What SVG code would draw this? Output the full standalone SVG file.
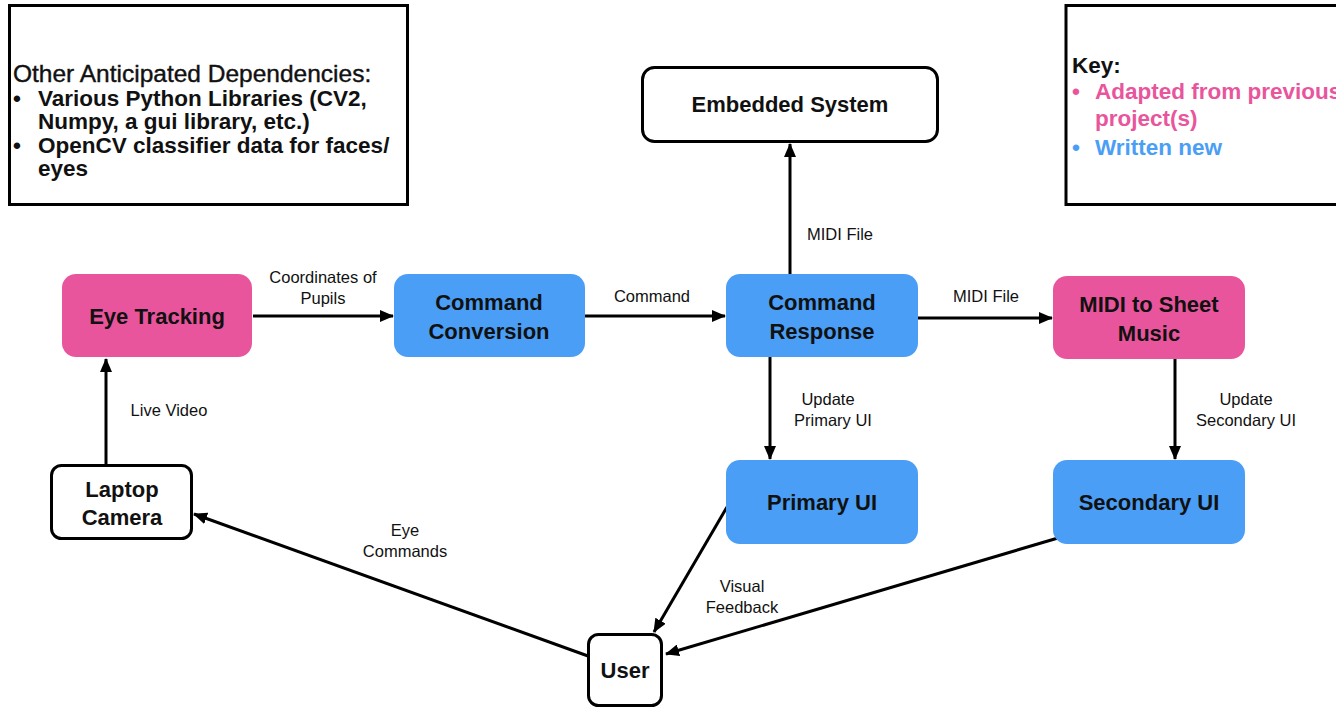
<svg xmlns="http://www.w3.org/2000/svg" width="1336" height="708" viewBox="0 0 1336 708">
<style>
.frame{fill:#fff;stroke:#000;stroke-width:3}
.wnode{fill:#fff;stroke:#000;stroke-width:3}
.blue{fill:#4A9EF5}
.pink{fill:#E9559C}
.nt{font-family:"Liberation Sans",Arial,sans-serif;font-size:22px;font-weight:bold;fill:#111;text-anchor:middle}
.lbl{font-family:"Liberation Sans",Arial,sans-serif;font-size:16.5px;fill:#111;text-anchor:middle}
.hd{font-family:"Liberation Sans",Arial,sans-serif;font-size:24.5px;fill:#111;stroke:#111;stroke-width:0.4}
.bl{font-family:"Liberation Sans",Arial,sans-serif;font-size:22.5px;font-weight:bold;fill:#111}
.kp{fill:#E9559C}
.kb{fill:#4A9EF5}
.edge{stroke:#000;stroke-width:3;fill:none;marker-end:url(#ah)}
</style>
<defs>
<marker id="ah" markerWidth="14" markerHeight="12" refX="13" refY="6" orient="auto" markerUnits="userSpaceOnUse">
<path d="M0,0 L14,6 L0,12 Z" fill="#000"/>
</marker>
</defs>
<rect width="1336" height="708" fill="#fff"/>

<g id="dependencies">
<rect class="frame" x="9.5" y="5.5" width="398" height="199"/>
<text class="hd" x="13" y="82">Other Anticipated Dependencies:</text>
<text class="bl" x="13" y="106">•</text>
<text class="bl" x="38" y="106">Various Python Libraries (CV2,</text>
<text class="bl" x="38" y="129">Numpy, a gui library, etc.)</text>
<text class="bl" x="13" y="153">•</text>
<text class="bl" x="38" y="153">OpenCV classifier data for faces/</text>
<text class="bl" x="38" y="176">eyes</text>
</g>

<g id="key">
<rect class="frame" x="1066" y="5.5" width="285" height="199"/>
<text class="bl" x="1072" y="73">Key:</text>
<text class="bl kp" x="1072" y="99">•</text>
<text class="bl kp" x="1095" y="99">Adapted from previous</text>
<text class="bl kp" x="1095" y="126">project(s)</text>
<text class="bl kb" x="1072" y="155">•</text>
<text class="bl kb" x="1095" y="155">Written new</text>
</g>

<g id="connectors">
<line class="edge" x1="253" y1="316" x2="393" y2="316"/>
<line class="edge" x1="585" y1="316" x2="725" y2="316"/>
<line class="edge" x1="918" y1="318" x2="1052" y2="318"/>
<line class="edge" x1="790" y1="274" x2="790" y2="144"/>
<line class="edge" x1="770" y1="357" x2="770" y2="459"/>
<line class="edge" x1="1175" y1="359" x2="1175" y2="459"/>
<line class="edge" x1="106" y1="465" x2="106" y2="359"/>
<line class="edge" x1="588" y1="656" x2="194" y2="514"/>
<line class="edge" x1="727" y1="507" x2="654" y2="632"/>
<line class="edge" x1="1058" y1="538" x2="666" y2="654"/>
<text class="lbl" x="323" y="283">Coordinates of</text>
<text class="lbl" x="323" y="304">Pupils</text>
<text class="lbl" x="652" y="302">Command</text>
<text class="lbl" x="986" y="302">MIDI File</text>
<text class="lbl" x="840" y="240">MIDI File</text>
<text class="lbl" x="828" y="405">Update</text>
<text class="lbl" x="833" y="426">Primary UI</text>
<text class="lbl" x="1246" y="405">Update</text>
<text class="lbl" x="1246" y="426">Secondary UI</text>
<text class="lbl" x="169" y="416">Live Video</text>
<text class="lbl" x="405" y="536">Eye</text>
<text class="lbl" x="405" y="557">Commands</text>
<text class="lbl" x="742" y="592">Visual</text>
<text class="lbl" x="742" y="613">Feedback</text>
</g>

<g id="eye-tracking">
<rect class="pink" x="62" y="274" width="190" height="83" rx="14"/>
<text class="nt" x="157" y="324">Eye Tracking</text>
</g>
<g id="command-conversion">
<rect class="blue" x="394" y="274" width="191" height="83" rx="14"/>
<text class="nt" x="489" y="310">Command</text>
<text class="nt" x="489" y="339">Conversion</text>
</g>
<g id="command-response">
<rect class="blue" x="726" y="274" width="192" height="83" rx="14"/>
<text class="nt" x="822" y="310">Command</text>
<text class="nt" x="822" y="339">Response</text>
</g>
<g id="midi-to-sheet">
<rect class="pink" x="1053" y="276" width="192" height="83" rx="14"/>
<text class="nt" x="1149" y="312">MIDI to Sheet</text>
<text class="nt" x="1149" y="341">Music</text>
</g>
<g id="primary-ui">
<rect class="blue" x="726" y="460" width="192" height="84" rx="14"/>
<text class="nt" x="822" y="510">Primary UI</text>
</g>
<g id="secondary-ui">
<rect class="blue" x="1053" y="460" width="192" height="84" rx="14"/>
<text class="nt" x="1149" y="510">Secondary UI</text>
</g>
<g id="embedded-system">
<rect class="wnode" x="642.5" y="67.5" width="295" height="74" rx="12"/>
<text class="nt" x="790" y="112">Embedded System</text>
</g>
<g id="laptop-camera">
<rect class="wnode" x="51.5" y="465.5" width="140" height="73" rx="10"/>
<text class="nt" x="122" y="497">Laptop</text>
<text class="nt" x="122" y="525">Camera</text>
</g>
<g id="user">
<rect class="wnode" x="588.5" y="634.5" width="73" height="71" rx="10"/>
<text class="nt" x="625" y="678">User</text>
</g>
</svg>
